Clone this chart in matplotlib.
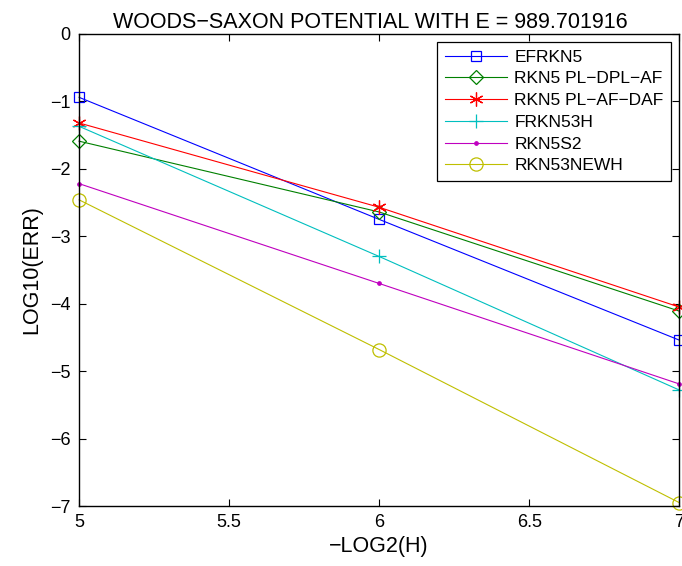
import matplotlib
matplotlib.use("Agg")
import matplotlib.pyplot as plt

plt.rcParams["font.family"] = ["Liberation Sans", "DejaVu Sans"]

# -log2(h) steps and log10 of the max error for each method
x_vals = [5, 6, 7]
efrkn5 = [-0.94, -2.75, -4.54]
rkn5_pl_dpl_af = [-1.59, -2.64, -4.11]
rkn5_pl_af_daf = [-1.32, -2.57, -4.05]
frkn53h = [-1.37, -3.30, -5.28]
rkn5s2 = [-2.22, -3.70, -5.19]
rkn53newh = [-2.46, -4.68, -6.95]

labels = ["EFRKN5", "RKN5 PL\u2212DPL\u2212AF", "RKN5 PL\u2212AF\u2212DAF",
          "FRKN53H", "RKN5S2", "RKN53NEWH"]
x_ticks = [5, 5.5, 6, 6.5, 7]
y_ticks = [0, -1, -2, -3, -4, -5, -6, -7]

styles = [
    dict(color="#0000ff", marker="s", ms=7.5, mfc="none"),
    dict(color="#008000", marker="D", ms=7.5, mfc="none"),
    dict(color="#ff0000", marker=(6, 2, 0), ms=10),
    dict(color="#00bfbf", marker="+", ms=10),
    dict(color="#bf00bf", marker=".", ms=5),
    dict(color="#bfbf00", marker="o", ms=9.5, mfc="none"),
]
series = [efrkn5, rkn5_pl_dpl_af, rkn5_pl_af_daf, frkn53h, rkn5s2, rkn53newh]

fig = plt.figure(figsize=(6.82, 5.66), dpi=100)
ax = fig.add_axes([0.116, 0.106, 0.880, 0.834])

for ys, lab, st in zip(series, labels, styles):
    ax.plot(x_vals, ys, lw=0.8, label=lab, mew=0.9, clip_on=False, **st)

ax.set_xlim(5, 7)
ax.set_ylim(-7, 0)
ax.set_xticks(x_ticks)
ax.set_xticklabels(["5", "5.5", "6", "6.5", "7"])
ax.set_yticks(y_ticks)
ax.tick_params(direction="in", top=True, right=True, length=5, labelsize=13, pad=6)
for sp in ax.spines.values():
    sp.set_linewidth(1.0)

ax.set_title("WOODS\u2212SAXON POTENTIAL WITH E = 989.701916", fontsize=15.5, pad=4, x=0.485)
ax.set_xlabel("\u2212LOG2(H)", fontsize=15.5, labelpad=3)
ax.set_ylabel("LOG10(ERR)", fontsize=15.5, labelpad=6)

leg = ax.legend(loc="upper right", fontsize=12.5, handlelength=3.6, handletextpad=0.4,
                fancybox=False, edgecolor="black", framealpha=1, borderaxespad=0.45,
                labelspacing=0.38, borderpad=0.45)
leg.get_frame().set_linewidth(0.9)

fig.savefig("out.png", dpi=100)
